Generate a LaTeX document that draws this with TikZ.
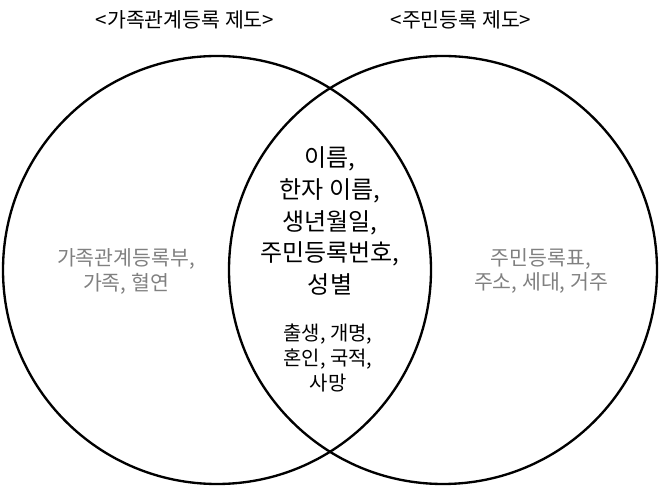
\documentclass[tikz,border=0pt]{standalone}
\usepackage{fontspec}
\setmainfont{Noto Sans CJK KR}
\begin{document}
\begin{tikzpicture}[x=0.03cm,y=-0.03cm,
  circ/.style={draw=black,line width=2pt},
  big/.style={font=\fontsize{20.5}{27}\selectfont,align=center},
  mid/.style={font=\fontsize{17}{21.3}\selectfont,align=center},
  ttl/.style={font=\fontsize{17.5}{21}\selectfont,align=center},
  grey/.style={font=\fontsize{17.5}{21.3}\selectfont,align=center,text=gray}]
\useasboundingbox (0,0) rectangle (659,486);
\node[circ,circle,minimum size=428*0.03cm] (L) at (217,270) {};
\node[circ,circle,minimum size=428*0.03cm] (R) at (443,270) {};
\node[ttl] (tl) at (185,20) {<가족관계등록 제도>};
\node[ttl] (tr) at (461,20) {<주민등록 제도>};
\node[big] (c) at (330,221) {이름,\\한자 이름,\\생년월일,\\주민등록번호,\\성별};
\node[mid] (c2) at (328,358) {출생, 개명,\\혼인, 국적,\\사망};
\node[grey] (gl) at (126,271) {가족관계등록부,\\가족, 혈연};
\node[grey] (gr) at (541,271) {주민등록표,\\주소, 세대, 거주};
\end{tikzpicture}
\end{document}
